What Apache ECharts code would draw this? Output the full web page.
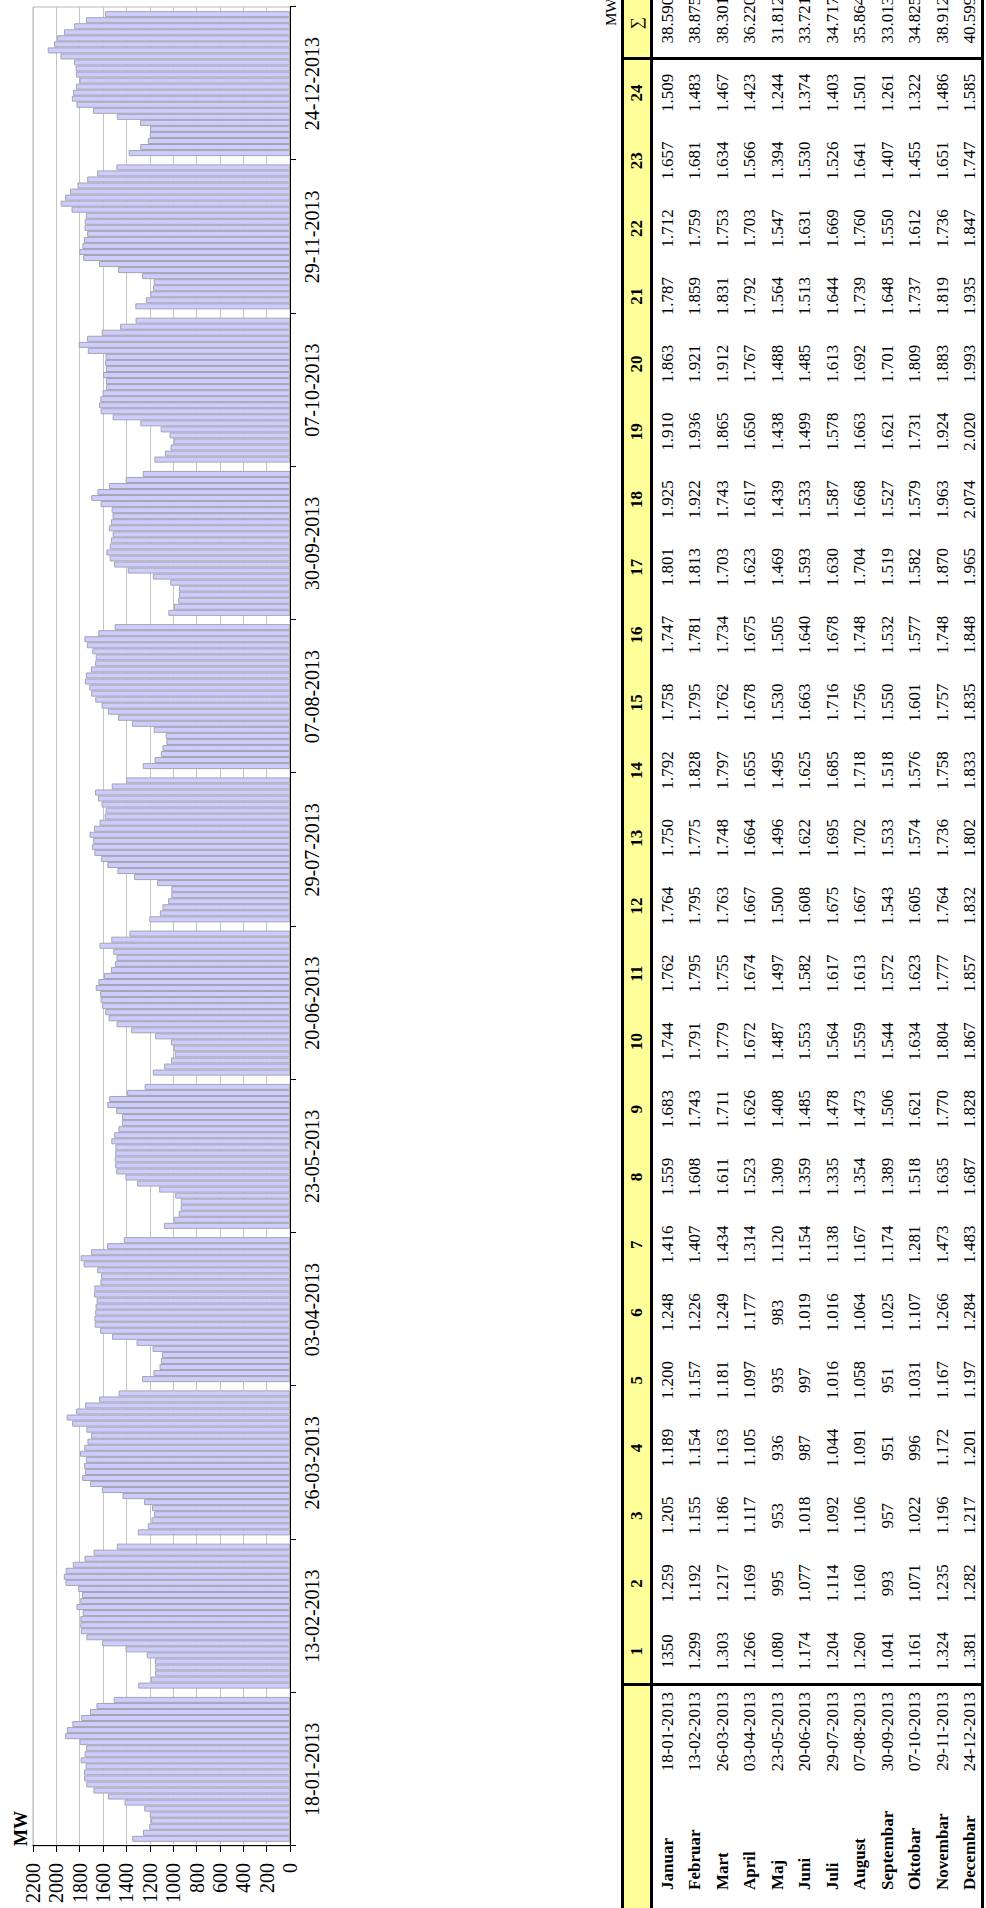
<!DOCTYPE html>
<html>
<head>
<meta charset="utf-8">
<script src="https://cdn.jsdelivr.net/npm/echarts/dist/echarts.min.js"></script>
<style>
  html, body { margin: 0; padding: 0; background: #fff; width: 986px; height: 1908px; overflow: hidden; }
  /* the sheet is landscape, turned a quarter counter-clockwise */
  #page {
    position: absolute; left: 0; top: 0; width: 1908px; height: 986px;
    transform-origin: 0 0; transform: translate(0px, 1908px) rotate(-90deg);
    font-family: 'Liberation Serif', 'Times New Roman', serif; color: #000;
  }
  #chart { position: absolute; left: 0; top: 0; width: 1908px; height: 340px; }
  #table { position: absolute; left: 0; top: 0; width: 1930px; height: 986px; }
  .cell { position: absolute; font-size: 17px; line-height: 20px; height: 20px; white-space: nowrap; }
  .line { position: absolute; background: #000; }
</style>
</head>
<body>
<div id="page">
  <div id="chart"></div>
  <div id="table"></div>
</div>
<script>
// mjeseci i dani sa max. potrosnjom
const months = ['Januar', 'Februar', 'Mart', 'April', 'Maj', 'Juni', 'Juli', 'August',
  'Septembar', 'Oktobar', 'Novembar', 'Decembar']
const maxDays = ['18-01-2013', '13-02-2013', '26-03-2013', '03-04-2013', '23-05-2013', '20-06-2013',
  '29-07-2013', '07-08-2013', '30-09-2013', '07-10-2013', '29-11-2013', '24-12-2013']
const hours = ['1', '2', '3', '4', '5', '6', '7', '8', '9', '10', '11', '12',
  '13', '14', '15', '16', '17', '18', '19', '20', '21', '22', '23', '24']

// satna potrosnja (MW), sati 1..24
const januar = [1350, 1259, 1205, 1189, 1200, 1248, 1416, 1559, 1683, 1744, 1762, 1764, 1750, 1792, 1758, 1747, 1801, 1925, 1910, 1863, 1787, 1712, 1657, 1509]
const februar = [1299, 1192, 1155, 1154, 1157, 1226, 1407, 1608, 1743, 1791, 1795, 1795, 1775, 1828, 1795, 1781, 1813, 1922, 1936, 1921, 1859, 1759, 1681, 1483]
const mart = [1303, 1217, 1186, 1163, 1181, 1249, 1434, 1611, 1711, 1779, 1755, 1763, 1748, 1797, 1762, 1734, 1703, 1743, 1865, 1912, 1831, 1753, 1634, 1467]
const april = [1266, 1169, 1117, 1105, 1097, 1177, 1314, 1523, 1626, 1672, 1674, 1667, 1664, 1655, 1678, 1675, 1623, 1617, 1650, 1767, 1792, 1703, 1566, 1423]
const maj = [1080, 995, 953, 936, 935, 983, 1120, 1309, 1408, 1487, 1497, 1500, 1496, 1495, 1530, 1505, 1469, 1439, 1438, 1488, 1564, 1547, 1394, 1244]
const juni = [1174, 1077, 1018, 987, 997, 1019, 1154, 1359, 1485, 1553, 1582, 1608, 1622, 1625, 1663, 1640, 1593, 1533, 1499, 1485, 1513, 1631, 1530, 1374]
const juli = [1204, 1114, 1092, 1044, 1016, 1016, 1138, 1335, 1478, 1564, 1617, 1675, 1695, 1685, 1716, 1678, 1630, 1587, 1578, 1613, 1644, 1669, 1526, 1403]
const august = [1260, 1160, 1106, 1091, 1058, 1064, 1167, 1354, 1473, 1559, 1613, 1667, 1702, 1718, 1756, 1748, 1704, 1668, 1663, 1692, 1739, 1760, 1641, 1501]
const septembar = [1041, 993, 957, 951, 951, 1025, 1174, 1389, 1506, 1544, 1572, 1543, 1533, 1518, 1550, 1532, 1519, 1527, 1621, 1701, 1648, 1550, 1407, 1261]
const oktobar = [1161, 1071, 1022, 996, 1031, 1107, 1281, 1518, 1621, 1634, 1623, 1605, 1574, 1576, 1601, 1577, 1582, 1579, 1731, 1809, 1737, 1612, 1455, 1322]
const novembar = [1324, 1235, 1196, 1172, 1167, 1266, 1473, 1635, 1770, 1804, 1777, 1764, 1736, 1758, 1757, 1748, 1870, 1963, 1924, 1883, 1819, 1736, 1651, 1486]
const decembar = [1381, 1282, 1217, 1201, 1197, 1284, 1483, 1687, 1828, 1867, 1857, 1832, 1802, 1833, 1835, 1848, 1965, 2074, 2020, 1993, 1935, 1847, 1747, 1585]

// dnevne sume (MWh) kako stoje u tabeli
const daySums = [38590, 38875, 38301, 36220, 31812, 33721, 34717, 35864, 33013, 34825, 38912, 40599]

const monthLoads = [januar, februar, mart, april, maj, juni, juli, august, septembar, oktobar, novembar, decembar]

// ---------------- dijagram ----------------
let myChart = echarts.init(document.getElementById('chart'), null, { renderer: 'svg' })
myChart.setOption({
  animation: false,
  textStyle: { fontFamily: 'Liberation Serif' },
  grid: {
    left: 62,
    top: 33,
    width: 1839,
    height: 257,
    show: true,
    borderColor: '#b8b8b8',
    borderWidth: 1,
    outerBoundsMode: 'none'
  },
  xAxis: {
    type: 'category',
    data: maxDays,
    axisLine: { lineStyle: { color: '#000', width: 1 } },
    axisTick: { show: true, length: 6, lineStyle: { color: '#000' } },
    axisLabel: { interval: 0, color: '#000', fontSize: 20, margin: 12 },
    splitLine: { show: false }
  },
  yAxis: {
    type: 'value',
    min: 0,
    max: 2200,
    interval: 200,
    name: 'MW',
    nameLocation: 'end',
    nameGap: 3,
    nameTextStyle: { align: 'left', verticalAlign: 'bottom', color: '#000', fontSize: 18, fontWeight: 'bold' },
    axisLine: { show: true, lineStyle: { color: '#000', width: 1 } },
    axisTick: { show: true, length: 6, lineStyle: { color: '#000' } },
    axisLabel: { color: '#000', fontSize: 20, margin: 17, formatter: v => String(v) },
    splitLine: { show: true, lineStyle: { color: '#c4c4c4', width: 1 } }
  },
  series: hours.map((h, i) => ({
    name: h,
    type: 'bar',
    silent: true,
    barGap: '0%',
    barCategoryGap: '5.4%',
    itemStyle: { color: '#ccccff', borderColor: '#a4a4ac', borderWidth: 1 },
    data: monthLoads.map(m => m[i])
  }))
})

// ---------------- tabela ----------------
const tbl = document.getElementById('table')
const TOP = 621, HEAD_END = 651, BOTTOM = 984
const COL0 = 223, COL_W = 67.75
const ROW0 = 668, ROW_H = 27.45

function fmt(n) {
  if (n < 1000) return String(n)
  return Math.floor(n / 1000) + '.' + String(n % 1000).padStart(3, '0')
}
// u izvornoj tabeli prva celija (Januar, 1. sat) nema separatora
const noSeparator = [[0, 0]]

function box(x, y, w, h, bg) {
  const d = document.createElement('div')
  d.className = 'line'
  d.style.left = x + 'px'
  d.style.top = y + 'px'
  d.style.width = w + 'px'
  d.style.height = h + 'px'
  if (bg) d.style.background = bg
  tbl.appendChild(d)
}
function text(t, cx, cy, align, bold) {
  const d = document.createElement('div')
  d.className = 'cell'
  d.textContent = t
  const w = 140
  if (align === 'left') { d.style.left = cx + 'px'; d.style.textAlign = 'left' }
  else if (align === 'right') { d.style.left = (cx - w) + 'px'; d.style.textAlign = 'right' }
  else { d.style.left = (cx - w / 2) + 'px'; d.style.textAlign = 'center' }
  d.style.width = w + 'px'
  d.style.top = (cy - 10) + 'px'
  if (bold) d.style.fontWeight = 'bold'
  tbl.appendChild(d)
}

// zaglavlje
box(-20, TOP, 1960, HEAD_END - TOP, '#ffff99')
const headY = (TOP + HEAD_END) / 2 + 1
hours.forEach((h, i) => text(h, COL0 + (i + 0.5) * COL_W, headY, 'center', true))
text('\u2211', COL0 + 24.5 * COL_W + 2, headY, 'center', false)

// podaci
months.forEach((m, r) => {
  const y = ROW0 + r * ROW_H
  text(m, 18, y, 'left', true)
  text(maxDays[r], 216, y, 'right', false)
  monthLoads[r].forEach((v, c) => {
    const plain = noSeparator.some(p => p[0] === r && p[1] === c)
    text(plain ? String(v) : fmt(v), COL0 + (c + 0.5) * COL_W, y, 'center', false)
  })
  text(fmt(daySums[r]), COL0 + 24.5 * COL_W + 5, y, 'center', false)
})

// debele linije
box(-20, TOP, 1960, 3)
box(-20, HEAD_END - 1.5, 1960, 3)
box(-20, BOTTOM - 3, 1960, 3)
box(COL0 - 1.5, TOP, 3, BOTTOM - TOP)
box(COL0 + 24 * COL_W - 1.5, TOP, 3, BOTTOM - TOP)

// jedinica iznad kolone sume
const unit = document.createElement('div')
unit.className = 'cell'
unit.textContent = 'MWh'
unit.style.fontSize = '15px'
unit.style.left = (1917 - 60) + 'px'
unit.style.width = '60px'
unit.style.textAlign = 'right'
unit.style.top = (TOP - 20) + 'px'
tbl.appendChild(unit)
</script>
</body>
</html>
